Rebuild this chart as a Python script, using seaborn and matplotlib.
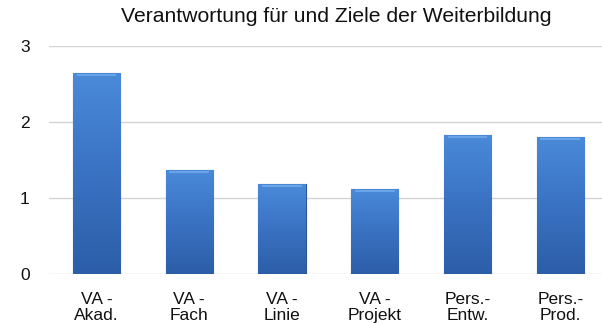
import numpy as np
import pandas as pd
import matplotlib
matplotlib.use("Agg")
import matplotlib.pyplot as plt
import seaborn as sns
from matplotlib.colors import LinearSegmentedColormap

categories = ["VA -\nAkad.", "VA -\nFach", "VA -\nLinie", "VA -\nProjekt", "Pers.-\nEntw.", "Pers.-\nProd."]
values = [2.64, 1.37, 1.18, 1.12, 1.83, 1.80]
yticks = [0, 1, 2, 3]
title = "Verantwortung für und Ziele der Weiterbildung"

sns.set_style("white")
plt.rcParams["font.family"] = ["Liberation Sans", "DejaVu Sans"]

df = pd.DataFrame({"Kategorie": categories, "Wert": values})

fig = plt.figure(figsize=(6.02, 3.23), dpi=100)
ax = fig.add_axes([49 / 602, 1 - 274 / 323, (602 - 49) / 602, (274 - 45.7) / 323])

sns.barplot(data=df, x="Kategorie", y="Wert", color="#3b73c4", width=0.51,
            edgecolor="#2a5596", linewidth=0.8, ax=ax, zorder=3)

# vertical gradient fill inside each bar
cmap = LinearSegmentedColormap.from_list("bar", ["#4a8ad9", "#3a72c2", "#2c5ea8"])
grad = np.linspace(0, 1, 256).reshape(-1, 1)
for p in ax.patches:
    x0, y0 = p.get_x(), p.get_y()
    w, h = p.get_width(), p.get_height()
    im = ax.imshow(grad, extent=[x0, x0 + w, y0, y0 + h], origin="upper",
                   cmap=cmap, aspect="auto", zorder=3.5)
    im.set_clip_path(p)
    # lighter bevel on top edge
    ax.plot([x0 + w * 0.08, x0 + w * 0.92], [y0 + h - 0.03, y0 + h - 0.03],
            color="#6aa3e6", lw=1.5, zorder=4, solid_capstyle="butt")

ax.set_xlim(-0.512, 5.45)
ax.set_ylim(0, 3)
ax.set_yticks(yticks)
ax.set_yticklabels([str(t) for t in yticks])
ax.grid(axis="y", color="#d4d4d4", linewidth=1.0, zorder=0)
ax.set_axisbelow(True)
for s in ax.spines.values():
    s.set_visible(False)
ax.tick_params(axis="both", length=0, labelsize=12.5, colors="#111111")
ax.tick_params(axis="y", pad=14)
ax.tick_params(axis="x", pad=13)
for lbl in ax.get_xticklabels():
    lbl.set_linespacing(1.05)
ax.set_xlabel("")
ax.set_ylabel("")
fig.text(336 / 602, 1 - 16 / 323, title, ha="center", va="center", fontsize=15.2, color="#111111")

fig.savefig("out.png", dpi=100)
